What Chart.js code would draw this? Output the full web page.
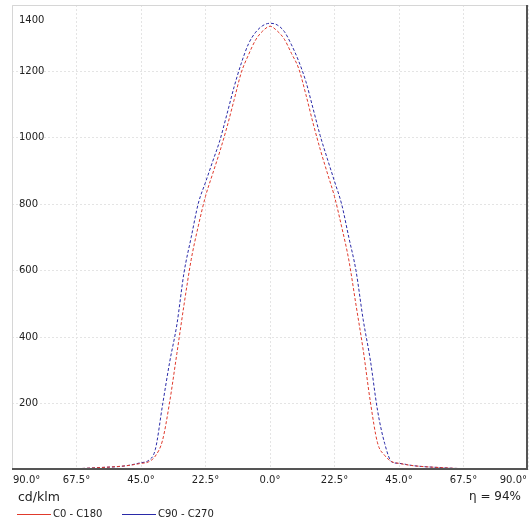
<!DOCTYPE html>
<html>
<head>
<meta charset="utf-8">
<script src="https://cdn.jsdelivr.net/npm/chart.js@4/dist/chart.umd.min.js"></script>
<style>
  html, body { margin: 0; padding: 0; background: #fff; }
  canvas { display: block; }
</style>
</head>
<body>
<canvas id="ldtChart" width="531" height="522"></canvas>
<script>
// angles (deg) and luminous intensity (cd/klm)
const angles = [-90, -80, -70, -60, -50, -45, -42.5, -40, -37.5, -35, -32.5, -30, -27.5, -25, -22.5, -20, -17.5, -15, -12.5, -10, -7.5, -5, -2.5,
  0, 2.5, 5, 7.5, 10, 12.5, 15, 17.5, 20, 22.5, 25, 27.5, 30, 32.5, 35, 37.5, 40, 42.5, 45, 50, 60, 70, 80, 90];
const c0c180 = [0, 1, 3, 7, 13, 20, 24, 42, 89, 205, 350, 497, 633, 735, 824, 892, 959, 1033, 1115, 1197, 1250, 1295, 1322,
  1336, 1322, 1297, 1254, 1209, 1131, 1045, 966, 894, 823, 732, 632, 497, 362, 206, 82, 44, 25, 20, 13, 7, 3, 1, 0];
const c90c270 = [0, 1, 3, 7, 13, 22, 28, 62, 195, 325, 437, 594, 700, 803, 866, 929, 992, 1072, 1154, 1225, 1283, 1318, 1338,
  1345, 1340, 1320, 1280, 1231, 1170, 1089, 1007, 937, 869, 800, 700, 600, 453, 331, 180, 80, 24, 20, 13, 7, 3, 1, 0];
const xTicks = [-90, -67.5, -45, -22.5, 0, 22.5, 45, 67.5, 90];
const yTicks = [200, 400, 600, 800, 1000, 1200, 1400];
const unitLabel = 'cd/klm';
const efficiency = 'η = 94%';
const seriesNames = ['C0 - C180', 'C90 - C270'];
const seriesColors = ['#e03a2c', '#2a2aa8'];

const FONT = '"DejaVu Sans", Verdana, sans-serif';

// tick labels, frame, unit, efficiency and legend
const decorations = {
  id: 'decorations',
  afterDraw(chart) {
    const { ctx, chartArea: a, scales } = chart;
    ctx.save();
    // frame: light on left/top, dark on right/bottom
    ctx.lineWidth = 1;
    ctx.strokeStyle = '#d6d6d6';
    ctx.beginPath();
    ctx.moveTo(a.left + 0.5, a.bottom);
    ctx.lineTo(a.left + 0.5, a.top + 0.5);
    ctx.lineTo(a.right, a.top + 0.5);
    ctx.stroke();
    ctx.strokeStyle = '#555';
    ctx.lineWidth = 2;
    ctx.beginPath();
    ctx.moveTo(a.right - 1, a.top);
    ctx.lineTo(a.right - 1, a.bottom - 1);
    ctx.lineTo(a.left, a.bottom - 1);
    ctx.stroke();

    ctx.fillStyle = '#222';
    ctx.font = '10px ' + FONT;
    ctx.textBaseline = 'middle';
    // y labels inside the plot
    ctx.textAlign = 'left';
    yTicks.forEach(v => {
      const y = Math.max(scales.y.getPixelForValue(v), a.top + 15);
      ctx.fillText(String(v), a.left + 7, y);
    });
    // x labels: absolute angle
    xTicks.forEach((v, i) => {
      const x = scales.x.getPixelForValue(v);
      const t = Math.abs(v).toFixed(1) + '°';
      if (i === 0) { ctx.textAlign = 'left'; ctx.fillText(t, a.left + 1, a.bottom + 10); }
      else if (i === xTicks.length - 1) { ctx.textAlign = 'right'; ctx.fillText(t, a.right - 1, a.bottom + 10); }
      else { ctx.textAlign = 'center'; ctx.fillText(t, x, a.bottom + 10); }
    });

    ctx.font = '12.5px ' + FONT;
    ctx.textAlign = 'left';
    ctx.fillText(unitLabel, 18, 498);
    ctx.font = '12px ' + FONT;
    ctx.textAlign = 'right';
    ctx.fillText(efficiency, 521, 497);

    // legend
    ctx.font = '10px ' + FONT;
    ctx.textAlign = 'left';
    const legendX = [17, 122];
    seriesNames.forEach((name, i) => {
      const lx = legendX[i];
      ctx.strokeStyle = seriesColors[i];
      ctx.lineWidth = 1;
      ctx.beginPath();
      ctx.moveTo(lx, 514.5);
      ctx.lineTo(lx + 34, 514.5);
      ctx.stroke();
      ctx.fillStyle = '#222';
      ctx.fillText(name, lx + 36, 514);
    });
    ctx.restore();
  }
};

const whiteBg = {
  id: 'whiteBg',
  beforeDraw(chart) {
    const ctx = chart.ctx;
    ctx.save();
    ctx.fillStyle = '#fff';
    ctx.fillRect(0, 0, chart.width, chart.height);
    ctx.restore();
  }
};

const ctx = document.getElementById('ldtChart').getContext('2d');
new Chart(ctx, {
  type: 'line',
  data: {
    datasets: [
      {
        label: seriesNames[0],
        data: angles.map((a, i) => ({ x: a, y: c0c180[i] })),
        borderColor: seriesColors[0],
        borderWidth: 1,
        borderDash: [3, 2],
        pointRadius: 0,
        cubicInterpolationMode: 'monotone'
      },
      {
        label: seriesNames[1],
        data: angles.map((a, i) => ({ x: a, y: c90c270[i] })),
        borderColor: seriesColors[1],
        borderWidth: 1,
        borderDash: [3, 2],
        pointRadius: 0,
        cubicInterpolationMode: 'monotone'
      }
    ]
  },
  options: {
    responsive: false,
    animation: false,
    layout: { padding: { left: 12, right: 3, top: 5, bottom: 52 } },
    plugins: {
      legend: { display: false },
      tooltip: { enabled: false }
    },
    scales: {
      x: {
        type: 'linear',
        min: -90,
        max: 90,
        afterBuildTicks: s => { s.ticks = xTicks.map(v => ({ value: v })); },
        afterFit: s => { s.height = 0; },
        ticks: { display: false },
        grid: { color: '#e4e4e4', drawTicks: false },
        border: { display: false, dash: [2, 2] }
      },
      y: {
        min: 0,
        max: 1400,
        afterBuildTicks: s => { s.ticks = yTicks.map(v => ({ value: v })); },
        afterFit: s => { s.width = 0; },
        ticks: { display: false },
        grid: { color: '#e4e4e4', drawTicks: false },
        border: { display: false, dash: [2, 2] }
      }
    }
  },
  plugins: [whiteBg, decorations]
});
</script>
</body>
</html>
